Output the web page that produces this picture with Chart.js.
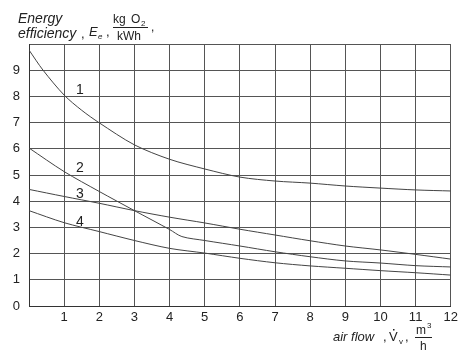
<!DOCTYPE html>
<html><head><meta charset="utf-8">
<script src="https://cdn.jsdelivr.net/npm/chart.js@4"></script>
<style>html,body{margin:0;padding:0;background:#fff}#c{display:block}</style>
</head><body>
<canvas id="c" width="462" height="351"></canvas>
<script>
const xFull = [0,1,2,3,4,5,6,7,8,9,10,11,12];
const x1 = [0,0.4,1,1.5,2,3,4,5,6,7,8,9,10,11,12];
const curve1 = [9.77,9.0,8.05,7.47,6.99,6.15,5.6,5.23,4.92,4.77,4.69,4.58,4.50,4.43,4.39];
const x2 = [0,1,2,3,4,4.35,5,6,7,8,9,10,11,12];
const curve2 = [6.03,5.13,4.37,3.64,2.92,2.65,2.5,2.29,2.07,1.88,1.72,1.64,1.54,1.49];
const curve3 = [4.45,4.18,3.92,3.64,3.39,3.17,2.93,2.71,2.49,2.29,2.14,1.97,1.79];
const curve4 = [3.64,3.18,2.84,2.50,2.20,2.02,1.82,1.65,1.53,1.44,1.35,1.27,1.18];
const curveLabels = ["1","2","3","4"];
const labelX = [1.45,1.45,1.45,1.45];
const labelY = [8.3,5.3,4.3,3.25];

const pts = (xs, ys) => xs.map((x,i)=>({x:x,y:ys[i]}));
const lineStyle = {borderColor:'#444', borderWidth:1, pointRadius:0, fill:false, tension:0.3};
const FONT = '"Liberation Sans", Arial, sans-serif';

const textPlugin = {
  id:'texts',
  afterDraw(chart){
    const ctx = chart.ctx, xs = chart.scales.x, ys = chart.scales.y;
    ctx.save();
    ctx.fillStyle = '#222';
    ctx.textBaseline = 'alphabetic';
    ctx.textAlign = 'center';
    ctx.font = '14px ' + FONT;
    curveLabels.forEach((t,i)=>{
      ctx.fillText(t, xs.getPixelForValue(labelX[i]), ys.getPixelForValue(labelY[i]) + 5);
    });
    // top-left axis title
    ctx.textAlign = 'left';
    ctx.font = 'italic 14px ' + FONT;
    ctx.fillText('Energy', 18, 23);
    ctx.fillText('efficiency', 18, 38);
    ctx.font = '13px ' + FONT;
    ctx.fillText(',', 81, 38);
    ctx.font = 'italic 13px ' + FONT;
    ctx.fillText('E', 89, 36);
    ctx.font = 'italic 8px ' + FONT;
    ctx.fillText('e', 98, 39);
    ctx.font = '13px ' + FONT;
    ctx.fillText(',', 106, 36);
    ctx.font = '12px ' + FONT;
    ctx.fillText('kg', 113, 23);
    ctx.fillText('O', 131, 23);
    ctx.font = '8px ' + FONT;
    ctx.fillText('2', 141, 26);
    ctx.font = '12px ' + FONT;
    ctx.fillText('kWh', 117, 40);
    ctx.fillText(',', 151, 31);
    ctx.strokeStyle = '#222'; ctx.lineWidth = 1;
    ctx.beginPath(); ctx.moveTo(113, 27.5); ctx.lineTo(148, 27.5); ctx.stroke();
    // bottom-right axis title
    ctx.font = 'italic 13px ' + FONT;
    ctx.fillText('air flow', 333, 341);
    ctx.font = '13px ' + FONT;
    ctx.fillText(',', 383, 341);
    ctx.fillText('V', 389, 341);
    ctx.fillRect(393, 329, 1.5, 1.5);
    ctx.font = '8px ' + FONT;
    ctx.fillText('v', 399, 344);
    ctx.font = '13px ' + FONT;
    ctx.fillText(',', 405, 341);
    ctx.font = '12px ' + FONT;
    ctx.fillText('m', 416, 334);
    ctx.font = '8px ' + FONT;
    ctx.fillText('3', 427, 328);
    ctx.font = '12px ' + FONT;
    ctx.fillText('h', 420, 350);
    ctx.beginPath(); ctx.moveTo(415, 337.5); ctx.lineTo(432, 337.5); ctx.stroke();
    ctx.restore();
  }
};

new Chart(document.getElementById('c'), {
  type:'line',
  data:{datasets:[
    Object.assign({data:pts(x1,curve1)}, lineStyle),
    Object.assign({data:pts(x2,curve2)}, lineStyle),
    Object.assign({data:pts(xFull,curve3)}, lineStyle),
    Object.assign({data:pts(xFull,curve4)}, lineStyle)
  ]},
  options:{
    responsive:false, animation:false,
    layout:{padding:{left:0,right:8,top:44,bottom:0}},
    plugins:{legend:{display:false}, tooltip:{enabled:false}},
    scales:{
      x:{type:'linear', min:0, max:12,
        ticks:{stepSize:1, color:'#222', font:{family:FONT,size:13}, padding:4,
          callback:v=> v===0 ? '' : String(v), maxRotation:0, autoSkip:false},
        grid:{color:'#555', lineWidth:1, drawTicks:false},
        border:{color:'#333', width:1},
        afterFit(s){ s.height = 45; }
      },
      y:{min:0, max:10,
        ticks:{stepSize:1, color:'#222', font:{family:FONT,size:13}, padding:9,
          callback:v=> v===10 ? '' : String(v)},
        grid:{color:'#555', lineWidth:1, drawTicks:false},
        border:{color:'#333', width:1},
        afterFit(s){ s.width = 29; }
      }
    }
  },
  plugins:[textPlugin]
});
</script>
</body></html>
